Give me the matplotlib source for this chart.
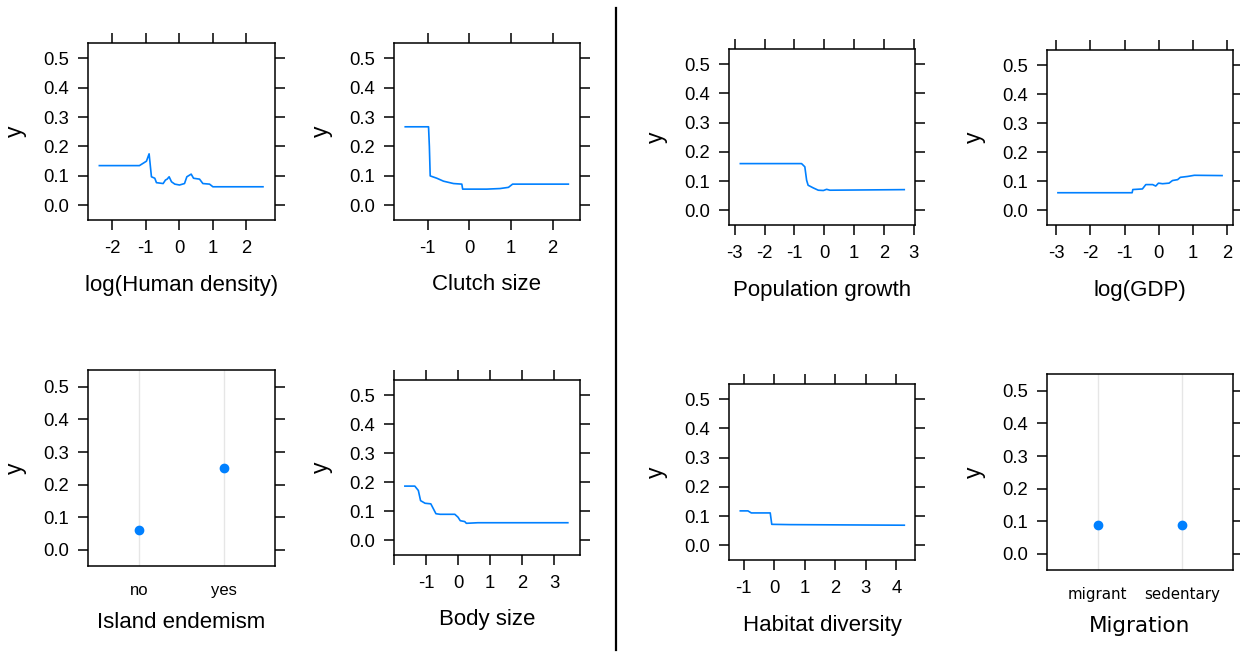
import matplotlib
matplotlib.use("Agg")
import matplotlib.pyplot as plt

plt.rcParams['font.family'] = ['Liberation Sans', 'DejaVu Sans']

W, H = 1240, 653
BLUE = "#0080ff"

# --- partial dependence curves ---
human_x = [-2.39, -1.19, -0.98, -0.9, -0.83, -0.73, -0.68, -0.48, -0.41, -0.36, -0.3, -0.23,
           -0.13, 0.01, 0.16, 0.23, 0.36, 0.43, 0.61, 0.71, 0.91, 1.01, 2.51]
human_y = [0.135, 0.135, 0.15, 0.175, 0.097, 0.092, 0.077, 0.074, 0.086, 0.089, 0.097, 0.08,
           0.072, 0.069, 0.074, 0.097, 0.106, 0.092, 0.089, 0.074, 0.072, 0.063, 0.063]

clutch_x = [-1.54, -0.98, -0.96, -0.94, -0.78, -0.62, -0.38, -0.18, -0.16, 0.42, 0.74, 0.94, 1.04, 2.38]
clutch_y = [0.267, 0.267, 0.2, 0.1, 0.092, 0.082, 0.074, 0.072, 0.055, 0.055, 0.057, 0.061, 0.072, 0.072]

popgrowth_x = [-2.81, -0.76, -0.65, -0.59, -0.54, -0.37, -0.2, -0.03, 0.08, 0.19, 2.68]
popgrowth_y = [0.16, 0.16, 0.149, 0.103, 0.086, 0.077, 0.069, 0.068, 0.072, 0.069, 0.071]

gdp_x = [-2.95, -0.78, -0.76, -0.48, -0.38, -0.18, -0.09, -0.01, 0.11, 0.3, 0.4, 0.55, 0.63,
         0.84, 1.04, 1.85]
gdp_y = [0.061, 0.061, 0.072, 0.074, 0.089, 0.089, 0.084, 0.094, 0.092, 0.094, 0.103, 0.106,
         0.114, 0.117, 0.121, 0.12]

body_x = [-1.66, -1.35, -1.24, -1.17, -1.03, -0.85, -0.77, -0.69, -0.56, -0.1, 0.0, 0.07,
          0.21, 0.26, 0.62, 3.43]
body_y = [0.187, 0.187, 0.172, 0.137, 0.128, 0.126, 0.109, 0.092, 0.09, 0.09, 0.08, 0.068,
          0.065, 0.059, 0.061, 0.061]

habitat_x = [-1.11, -0.86, -0.75, -0.13, -0.08, 0.52, 4.26]
habitat_y = [0.118, 0.118, 0.111, 0.111, 0.072, 0.071, 0.069]

island_cats = ["no", "yes"]
island_y = [0.061, 0.252]

migration_cats = ["migrant", "sedentary"]
migration_y = [0.088, 0.089]

y_ticks = [0.0, 0.1, 0.2, 0.3, 0.4, 0.5]

fig = plt.figure(figsize=(W / 100, H / 100), dpi=100)


def make_ax(left, top, right, bottom):
    ax = fig.add_axes([left / W, 1 - bottom / H, (right - left) / W, (bottom - top) / H])
    ax.set_ylim(-0.05, 0.552)
    ax.set_yticks(y_ticks)
    ax.set_yticklabels([f"{v:.1f}" for v in y_ticks])
    for s in ax.spines.values():
        s.set_linewidth(1.1)
    ax.tick_params(axis="y", left=True, right=True, labelleft=True, labelright=False,
                   direction="out", length=7.5, width=1.1, pad=6, labelsize=13.3)
    ax.set_ylabel("y", fontsize=16.5)
    ax.yaxis.set_label_coords(-73 / (right - left), 0.5)
    ax.yaxis.label.set_va("center")
    return ax, bottom - top


def numeric_panel(rect, x, y, xlim, xticks, xlabel, hide=()):
    ax, h = make_ax(*rect)
    ax.plot(x, y, color=BLUE, lw=1.2)
    ax.set_xlim(*xlim)
    ax.set_xticks(xticks)
    ax.set_xticklabels(["" if t in hide else str(t) for t in xticks])
    ax.tick_params(axis="x", top=True, bottom=True, labeltop=False, direction="out",
                   length=7.5, width=1.1, pad=7, labelsize=13.3)
    ax.set_xlabel(xlabel, fontsize=16)
    ax.xaxis.set_label_coords(0.5, -65 / h)
    ax.xaxis.label.set_va("center")
    return ax


def cat_panel(rect, cats, vals, xlabel, font=None, labsize=16, ticksize=12):
    ax, h = make_ax(*rect)
    pos = list(range(1, len(cats) + 1))
    for p in pos:
        ax.axvline(p, color="#e6e6e6", lw=1, zorder=0)
    ax.plot(pos, vals, "o", color=BLUE, ms=6, zorder=3)
    ax.set_xlim(0.4, len(cats) + 0.6)
    ax.set_xticks(pos)
    ax.set_xticklabels(cats)
    ax.tick_params(axis="x", top=False, bottom=False, pad=9, labelsize=ticksize)
    ax.set_xlabel(xlabel, fontsize=labsize)
    ax.xaxis.set_label_coords(0.5, -56 / h)
    ax.xaxis.label.set_va("center")
    if font:
        ax.xaxis.label.set_family(font)
        for t in ax.get_xticklabels():
            t.set_family(font)
    return ax


numeric_panel((88, 43, 275, 220), human_x, human_y, (-2.73, 2.87), [-2, -1, 0, 1, 2],
              "log(Human density)")
numeric_panel((394, 43, 580, 220), clutch_x, clutch_y, (-1.81, 2.66), [-1, 0, 1, 2],
              "Clutch size")
numeric_panel((729, 49, 915, 225), popgrowth_x, popgrowth_y, (-3.19, 3.04),
              [-3, -2, -1, 0, 1, 2, 3], "Population growth")
numeric_panel((1047, 50, 1233, 225), gdp_x, gdp_y, (-3.27, 2.17), [-3, -2, -1, 0, 1, 2],
              "log(GDP)")

cat_panel((88, 370, 275, 566), island_cats, island_y, "Island endemism")
numeric_panel((394, 380, 580, 555), body_x, body_y, (-1.99, 3.81), [-2, -1, 0, 1, 2, 3],
              "Body size", hide=(-2,))
numeric_panel((729, 384, 915, 560), habitat_x, habitat_y, (-1.48, 4.61),
              [-1, 0, 1, 2, 3, 4], "Habitat diversity")
cat_panel((1047, 374, 1233, 570), migration_cats, migration_y, "Migration",
          font="DejaVu Sans", labsize=15.5, ticksize=10.8)

# divider between the two groups of panels
fig.add_artist(plt.Line2D([615.5 / W, 615.5 / W], [1 - 8 / H, 1 - 650 / H],
                          transform=fig.transFigure, color="black", lw=1.6))

fig.savefig("out.png", dpi=100, facecolor="white")
